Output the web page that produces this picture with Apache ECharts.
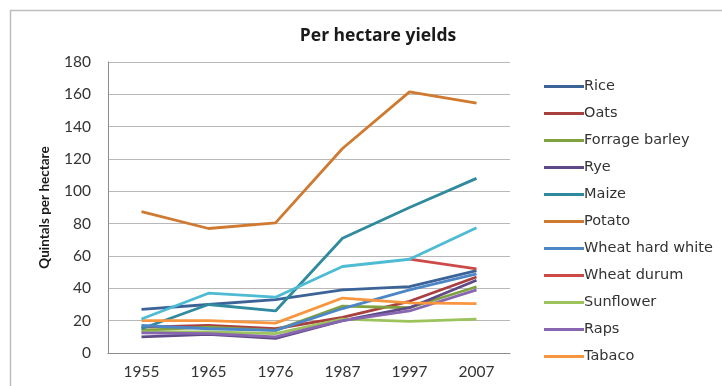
<!DOCTYPE html>
<html>
<head>
<meta charset="utf-8">
<script src="https://cdn.jsdelivr.net/npm/echarts@6/dist/echarts.min.js"></script>
<style>
  html, body { margin: 0; padding: 0; background: #ffffff; }
  #chart { width: 722px; height: 386px; }
</style>
</head>
<body>
<div id="chart"></div>
<script>
// Census years on the category axis
const years = ['1955', '1965', '1976', '1987', '1997', '2007'];

// Value axis ticks (quintals per hectare)
const yTicks = [0, 20, 40, 60, 80, 100, 120, 140, 160, 180];

// Yields per crop, quintals per hectare
const rice           = [27, 30, 33, 39, 41, 51];
const oats           = [16, 17, 15, 22, 32, 47];
const forrageBarley  = [14, 16, 14, 29, 28, 41];
const rye            = [10, 11.5, 9, 20, 28, 45];
const maize          = [15, 30, 26, 71, 90, 108];
const potato         = [87.5, 77, 80.5, 126.5, 161.5, 154.5];
const wheatHardWhite = [17, 15, 14, 27.5, 39, 49];
const wheatDurum     = [null, null, null, null, 58, 52];
const sunflower      = [13, 13, 12, 21, 19.5, 21];
const raps           = [12.5, 12, 10, 20, 26, 39];
const tabaco         = [20, 20, 18.5, 34, 31, 30.5];
const other          = [21, 37, 34.5, 53.5, 58, 77.5];

const seriesDefs = [
  { name: 'Rice',             data: rice,           color: '#3b6397' },
  { name: 'Oats',             data: oats,           color: '#a9403e' },
  { name: 'Forrage barley',   data: forrageBarley,  color: '#7fa23f' },
  { name: 'Rye',              data: rye,            color: '#5f4a88' },
  { name: 'Maize',            data: maize,          color: '#2f8a9e' },
  { name: 'Potato',           data: potato,         color: '#cf7a30' },
  { name: 'Wheat hard white', data: wheatHardWhite, color: '#4d86c6' },
  { name: 'Wheat durum',      data: wheatDurum,     color: '#cc4a48' },
  { name: 'Sunflower',        data: sunflower,      color: '#9cc35c' },
  { name: 'Raps',             data: raps,           color: '#8765b0' },
  { name: 'Tabaco',           data: tabaco,         color: '#f7963f' },
  { name: 'Other',            data: other,          color: '#4dbbd3' }
];

const legendNames = seriesDefs.slice(0, 11).map(s => s.name);

const chart = echarts.init(document.getElementById('chart'), null, { renderer: 'canvas' });

chart.setOption({
  animation: false,
  backgroundColor: '#ffffff',
  title: {
    text: 'Per hectare yields',
    left: 373,
    top: 22,
    textAlign: 'center',
    textStyle: { fontFamily: 'Open Sans', fontWeight: 'bold', fontSize: 17.5, color: '#1a1a1a' }
  },
  graphic: [{
    type: 'rect',
    shape: { x: 10.5, y: 10.5, width: 740, height: 400 },
    style: { fill: 'none', stroke: '#bdbdbd', lineWidth: 1.5 },
    silent: true,
    z: -1
  }],
  legend: {
    data: legendNames,
    orient: 'vertical',
    left: 539,
    top: 74,
    itemGap: 12,
    itemWidth: 40,
    itemHeight: 16,
    icon: 'path://M0,7 L40,7 L40,10 L0,10 Z',
    textStyle: { fontFamily: 'DejaVu Sans', fontSize: 14.5, color: '#333333', padding: [0, 0, 0, -5] }
  },
  grid: { left: 108, right: 212, top: 62, bottom: 33 },
  xAxis: {
    type: 'category',
    data: years,
    boundaryGap: true,
    axisLine: { show: true, lineStyle: { color: '#8c8c8c', width: 1 } },
    axisTick: { show: false },
    axisLabel: { margin: 11, fontFamily: 'Lato', fontSize: 15.5, color: '#333333' }
  },
  yAxis: {
    type: 'value',
    min: yTicks[0],
    max: yTicks[yTicks.length - 1],
    interval: yTicks[1] - yTicks[0],
    name: 'Quintals per hectare',
    nameLocation: 'middle',
    nameGap: 56,
    nameTextStyle: { fontFamily: 'Lato', fontWeight: 'bold', fontSize: 13.5, color: '#1a1a1a' },
    axisLine: { show: true, lineStyle: { color: '#8c8c8c', width: 1 } },
    axisTick: { show: false },
    axisLabel: { margin: 17, fontFamily: 'Lato', fontSize: 15.5, color: '#333333' },
    splitLine: { show: true, lineStyle: { color: '#b8b8b8', width: 1 } }
  },
  series: seriesDefs.map(s => ({
    name: s.name,
    type: 'line',
    data: s.data,
    showSymbol: false,
    symbol: 'none',
    connectNulls: false,
    lineStyle: { width: 2.8, color: s.color },
    itemStyle: { color: s.color }
  }))
});
</script>
</body>
</html>
